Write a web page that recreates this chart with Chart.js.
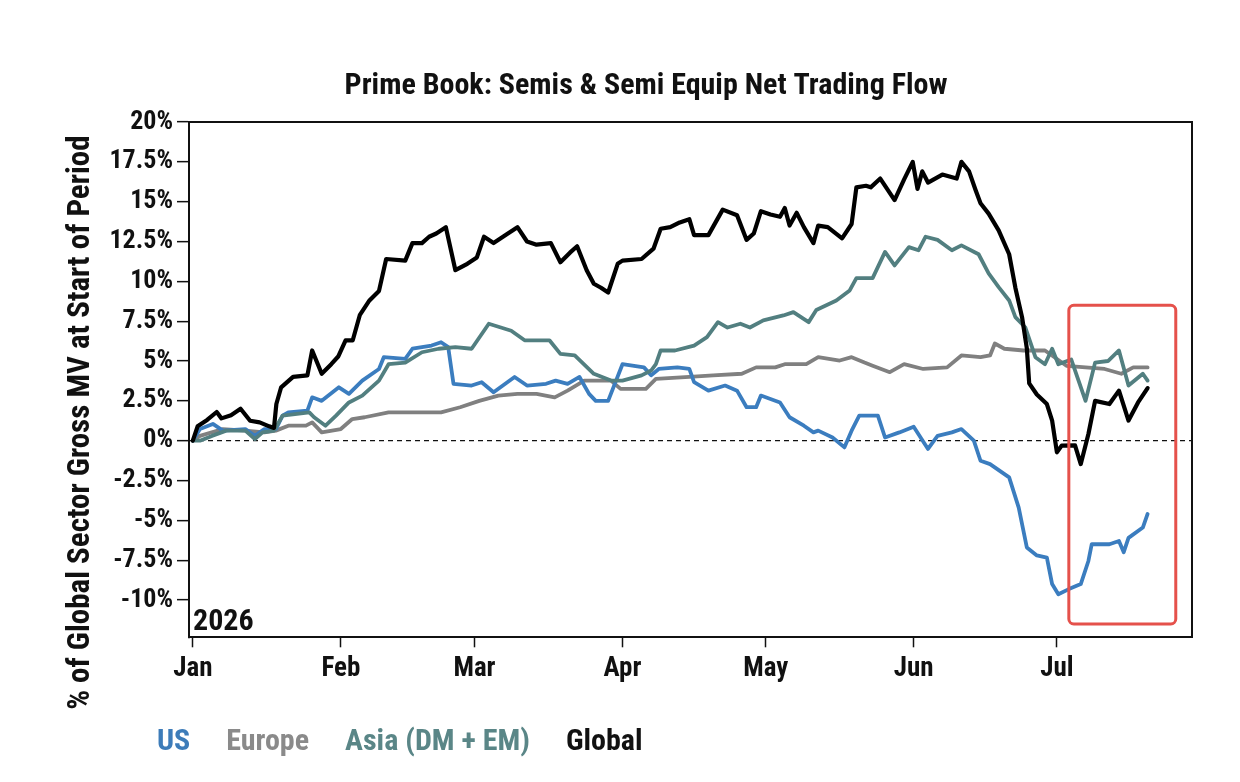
<!DOCTYPE html>
<html>
<head>
<meta charset="utf-8">
<script src="https://cdn.jsdelivr.net/npm/chart.js@4.4.1/dist/chart.umd.min.js"></script>
<style>
html,body{margin:0;padding:0;background:#ffffff;}
#wrap{width:1240px;height:782px;position:relative;}
canvas{display:block;}
</style>
</head>
<body>
<div id="wrap"><canvas id="c" width="1240" height="782"></canvas></div>
<script>
// ---------- data (x = day of year 2026, 0 = Jan 1) ----------
const chartTitle = 'Prime Book: Semis & Semi Equip Net Trading Flow';
const yAxisTitle = '% of Global Sector Gross MV at Start of Period';
const yearLabel = '2026';
const seriesNames = ['US', 'Europe', 'Asia (DM + EM)', 'Global'];
const monthTickDays = [0, 31, 59, 90, 120, 151, 181];
const monthTickLabels = ['Jan', 'Feb', 'Mar', 'Apr', 'May', 'Jun', 'Jul'];
const yTickValues = [-10, -7.5, -5, -2.5, 0, 2.5, 5, 7.5, 10, 12.5, 15, 17.5, 20];
const highlightDays = [183.5, 205.9];
const highlightValues = [-11.5, 8.5];

const usDays = [0,1.5,4.2,6.3,11,13,15,17.4,18.8,20,24,25,27,30.6,32.7,35.5,39,40,44.5,46,50,52,53.5,54.6,58.4,60.5,63,67.4,70,74,76,78.5,81,83,84.4,87,90,94.5,96,97.6,101.5,104,105,108,111.5,114,116,118,119,123,125,128,130,131,134,136.5,138,139.6,143.5,145,148,151,154,156,159,161,163.6,165,167,171,173,174.7,176.8,178.9,180,181.3,183.4,186,187.6,188.3,192,194,195,196,199,200];
const usValues = [0,0.73,1.05,0.63,0.73,0.3,0.73,0.73,1.57,1.78,1.89,2.72,2.5,3.35,2.94,3.77,4.5,5.24,5.13,5.77,5.97,6.18,5.87,3.57,3.46,3.67,3.04,4.0,3.46,3.57,3.77,3.57,4.0,2.94,2.5,2.5,4.8,4.6,4.1,4.5,4.6,4.5,3.67,3.14,3.46,3.14,2.1,2.1,2.83,2.4,1.47,0.94,0.52,0.63,0.2,-0.42,0.63,1.57,1.57,0.2,0.52,0.88,-0.52,0.3,0.52,0.73,0,-1.26,-1.47,-2.3,-4.2,-6.7,-7.2,-7.34,-9.0,-9.64,-9.33,-9.0,-7.55,-6.5,-6.5,-6.3,-7.0,-6.1,-5.45,-4.6];

const euDays = [0,1.5,6.3,11,15,17.4,20,23.7,25,27,31,33.4,36,41,46,52,56,60,64,68,72,75.8,78.5,82,87.6,89.6,94.9,97,104,109,115,118,122,124,128.5,131,135.5,138,140.7,142.4,146,149,153,158,161,165,167,168,170,174,178.5,183,191,194.5,197,200];
const euValues = [0,0.3,0.73,0.63,0.52,0.63,0.94,0.94,1.15,0.52,0.73,1.36,1.47,1.78,1.78,1.78,2.1,2.5,2.83,2.94,2.94,2.72,3.14,3.77,3.77,3.25,3.25,3.88,4.0,4.1,4.2,4.6,4.6,4.8,4.8,5.24,5.03,5.24,4.9,4.7,4.3,4.8,4.5,4.6,5.35,5.24,5.35,6.1,5.77,5.66,5.66,4.7,4.5,4.2,4.6,4.6];

const asiaDays = [0,1.5,4,7,11,13,14.6,17,18.8,24.4,25.4,27.8,30,32.7,35.5,39,41,44.5,48,51.5,55,58.4,62,66.7,69.5,74.7,77,80,84,87.6,90,94,96,97,98,101,105,107.7,110,112,114.7,116.7,119.5,123.7,125.8,129,130.6,134.8,137.6,139,142.4,145,147,150,152,153.5,156,159,161,164.6,166.7,168.8,171,172.3,174.4,176.5,178.5,180,181.3,184,187,189,191.7,194,196,199,200];
const asiaValues = [0,0,0.3,0.63,0.63,0.1,0.52,0.63,1.57,1.78,1.47,0.94,1.57,2.4,2.83,3.77,4.8,4.9,5.55,5.77,5.87,5.77,7.34,6.9,6.3,6.3,5.45,5.35,4.2,3.77,3.77,4.1,4.4,4.8,5.66,5.66,5.97,6.5,7.44,7.1,7.34,7.1,7.55,7.86,8.07,7.44,8.2,8.8,9.43,10.2,10.2,11.85,11.0,12.15,11.95,12.8,12.6,11.95,12.26,11.7,10.5,9.64,8.8,7.75,7.1,5.24,4.8,5.77,4.8,5.1,2.5,4.9,5.0,5.66,3.46,4.2,3.77];

const globalDays = [0,1,3,5,6,8,10,12,14,16,17,17.5,18.5,21,24,25,27,29,30.5,32,33.5,35,37,39,40.5,44.5,46,48,49.5,51,53,55,57.5,59.5,61,63,66,68,70,72,75,77,79,80.5,82.5,84,85.5,87,89,90,94,96.5,98,100,102,104,105,108,111,114,116,117.5,119,121,123,124,125,126.5,128,130,131,133,136,138,139,141,142,144,147,149,150.8,151.8,152.8,154,157,160,161,162.6,164,165,166.7,168.8,171,172.3,173.7,174.7,175.2,176.8,178.9,180,181,182,184.8,186,187.6,189,192,194,196,198,200];
const globalValues = [0,0.9,1.3,1.8,1.4,1.6,2.0,1.25,1.15,0.9,0.8,2.3,3.35,4.0,4.1,5.66,4.2,4.8,5.3,6.3,6.3,7.9,8.8,9.4,11.4,11.3,12.4,12.4,12.8,13.0,13.4,10.7,11.1,11.5,12.8,12.4,13.0,13.4,12.5,12.3,12.4,11.2,11.8,12.2,10.7,9.85,9.6,9.3,11.1,11.3,11.4,12.05,13.3,13.4,13.7,13.9,12.9,12.9,14.5,14.15,12.6,13.0,14.4,14.2,14.05,14.6,13.5,14.3,13.4,12.4,13.5,13.4,12.7,13.6,15.9,16.0,15.9,16.45,15.1,16.4,17.5,15.8,16.9,16.2,16.7,16.45,17.5,16.9,15.7,14.9,14.25,13.2,11.7,9.6,7.75,5.8,3.6,2.9,2.3,1.26,-0.73,-0.31,-0.3,-1.47,0.42,2.5,2.3,3.14,1.26,2.4,3.3];

// ---------- styling ----------
const FONT = '"Liberation Sans Narrow", "Roboto Condensed", "Arial Narrow", "DejaVu Sans Condensed", "Liberation Sans", sans-serif';
const lineColors = ['#3b7dbf', '#808080', '#527f80', '#000000'];
const legendColors = ['#3d7cb9', '#8a8a8a', '#5a8687', '#111111'];
const lineWidths = [3.8, 3.8, 3.8, 4.2];
const drawOrder = [2, 3, 1, 0];

const pairs = (xs, ys) => xs.map((x, i) => ({x: x, y: ys[i]}));
const seriesData = [pairs(usDays, usValues), pairs(euDays, euValues), pairs(asiaDays, asiaValues), pairs(globalDays, globalValues)];

const PLOT_BOTTOM = 637.3;
const TITLE_CENTER_X = 646;
const LEGEND_TEXT_X = 157;
const LEGEND_TEXT_Y = 742;
const LEGEND_PAD = 21;
const LEGEND_FONT = 30;
const YTITLE_SHIFT = 43;

const placePlugin = {
  id: 'placeBlocks',
  afterLayout(chart) {
    const t = chart.titleBlock;
    if (t) { t.left = TITLE_CENTER_X - 600; t.right = TITLE_CENTER_X + 600; }
    const lg = chart.legend;
    if (lg) {
      const w = lg.right - lg.left, h = lg.bottom - lg.top;
      lg.left = LEGEND_TEXT_X - LEGEND_FONT / 2 - LEGEND_PAD;
      lg.right = lg.left + Math.max(w, 900);
      lg.width = lg.right - lg.left;
      lg.top = LEGEND_TEXT_Y - LEGEND_PAD - LEGEND_FONT / 2;
      lg.bottom = lg.top + h;
    }
    const ys = chart.scales.y;
    if (ys && !ys._shiftWrapped) {
      const orig = ys.drawTitle;
      ys.drawTitle = function () {
        const ctx = this.ctx;
        ctx.save();
        ctx.translate(0, YTITLE_SHIFT);
        orig.apply(this, arguments);
        ctx.restore();
      };
      ys._shiftWrapped = true;
    }
  },
  beforeDatasetsDraw(chart) {
    const a = chart.chartArea, ctx = chart.ctx;
    ctx.save();
    ctx.strokeStyle = '#111';
    ctx.lineWidth = 2;
    ctx.beginPath();
    ctx.moveTo(a.left, a.top); ctx.lineTo(a.right, a.top); ctx.lineTo(a.right, a.bottom);
    ctx.stroke();
    ctx.font = 'bold 30px ' + FONT;
    ctx.fillStyle = '#111';
    ctx.textBaseline = 'alphabetic';
    ctx.textAlign = 'left';
    ctx.fillText(yearLabel, a.left + 4, a.bottom - 7);
    ctx.restore();
  },
  afterDatasetsDraw(chart) {
    const xs = chart.scales.x, ys = chart.scales.y, ctx = chart.ctx;
    const x0 = xs.getPixelForValue(highlightDays[0]), x1 = xs.getPixelForValue(highlightDays[1]);
    const y0 = ys.getPixelForValue(highlightValues[1]), y1 = ys.getPixelForValue(highlightValues[0]);
    ctx.save();
    ctx.strokeStyle = '#e5514b';
    ctx.lineWidth = 3;
    ctx.beginPath();
    if (ctx.roundRect) ctx.roundRect(x0, y0, x1 - x0, y1 - y0, 5); else ctx.rect(x0, y0, x1 - x0, y1 - y0);
    ctx.stroke();
    ctx.restore();
  }
};

new Chart(document.getElementById('c'), {
  type: 'line',
  data: {
    datasets: seriesNames.map((name, i) => ({
      label: name,
      data: seriesData[i],
      borderColor: lineColors[i],
      backgroundColor: lineColors[i],
      borderWidth: lineWidths[i],
      pointRadius: 0,
      tension: 0,
      fill: false,
      borderJoinStyle: 'round',
      borderCapStyle: 'round',
      order: drawOrder[i]
    }))
  },
  options: {
    responsive: false,
    animation: false,
    layout: { padding: { left: 60, right: 48, top: 0, bottom: 0 } },
    plugins: {
      title: {
        display: true,
        text: chartTitle,
        color: '#111',
        font: { family: FONT, size: 30, weight: 'bold', lineHeight: 1.2 },
        padding: { top: 68, bottom: 18 }
      },
      legend: {
        display: true,
        position: 'bottom',
        align: 'start',
        labels: {
          boxWidth: 0,
          boxHeight: 0,
          padding: LEGEND_PAD,
          font: { family: FONT, size: LEGEND_FONT, weight: 'bold' },
          generateLabels: (chart) => chart.data.datasets.map((ds, i) => ({
            text: ds.label,
            fontColor: legendColors[i],
            fillStyle: 'rgba(0,0,0,0)',
            strokeStyle: 'rgba(0,0,0,0)',
            lineWidth: 0,
            hidden: false,
            datasetIndex: i
          }))
        }
      },
      tooltip: { enabled: false }
    },
    scales: {
      x: {
        type: 'linear',
        min: -0.8,
        max: 209.3,
        afterBuildTicks: (s) => { s.ticks = monthTickDays.map(v => ({ value: v })); },
        afterFit: (s) => {
          const lh = s.chart.legend ? s.chart.legend.height : 0;
          s.height = 782 - PLOT_BOTTOM - lh;
        },
        ticks: {
          autoSkip: false,
          maxRotation: 0,
          padding: 6,
          color: '#111',
          font: { family: FONT, size: 27, weight: 'bold' },
          callback: (v) => { const k = monthTickDays.indexOf(v); return k >= 0 ? monthTickLabels[k] : ''; }
        },
        grid: { display: true, drawOnChartArea: false, drawTicks: true, tickLength: 10, tickColor: '#111', tickWidth: 1.5 },
        border: { display: true, color: '#111', width: 2 }
      },
      y: {
        type: 'linear',
        min: -12.34,
        max: 20,
        afterBuildTicks: (s) => { s.ticks = yTickValues.map(v => ({ value: v })); },
        afterFit: (s) => { s.width = 129; },
        ticks: {
          padding: 4,
          color: '#111',
          font: { family: FONT, size: 26, weight: 'bold' },
          callback: (v) => v + '%'
        },
        grid: {
          display: true,
          drawOnChartArea: true,
          drawTicks: true,
          tickLength: 12,
          tickColor: '#111',
          tickWidth: 1.5,
          lineWidth: 1.3,
          color: (c) => (c.tick && c.tick.value === 0) ? '#111' : 'rgba(0,0,0,0)'
        },
        border: { display: true, color: '#111', width: 2, dash: [5, 4] },
        title: {
          display: true,
          text: yAxisTitle,
          color: '#111',
          font: { family: FONT, size: 31, weight: 'bold', lineHeight: 1.2 },
          padding: { top: 3, bottom: 3 }
        }
      }
    }
  },
  plugins: [placePlugin]
});
</script>
</body>
</html>
